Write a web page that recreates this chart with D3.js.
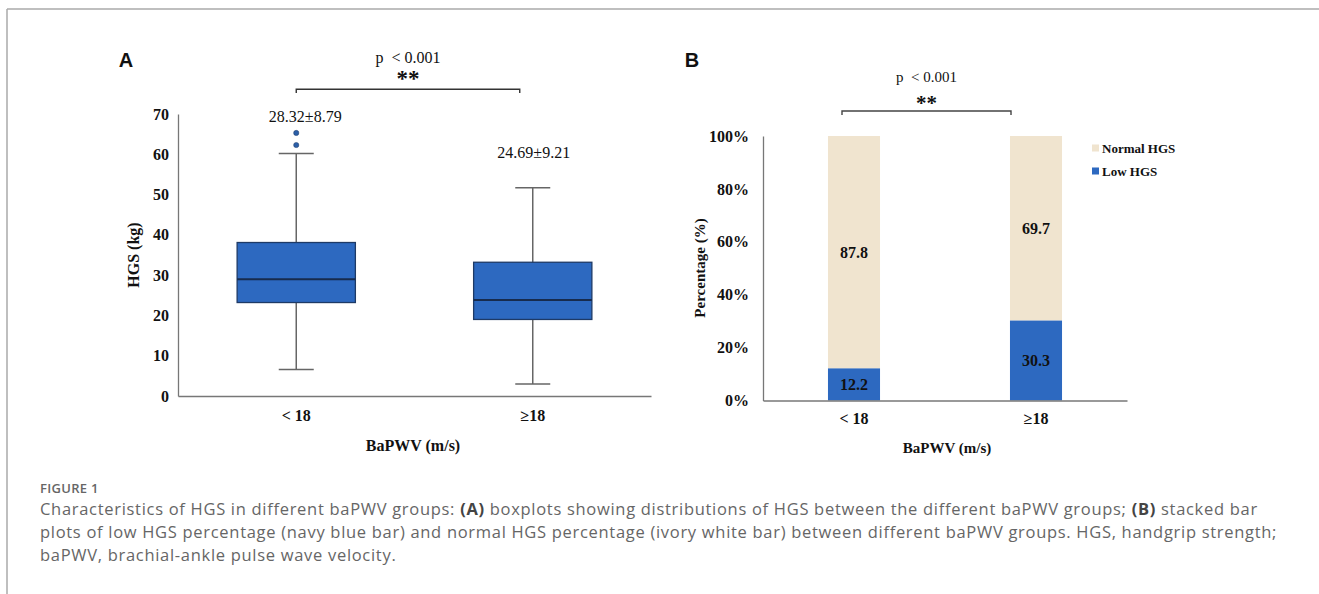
<!DOCTYPE html>
<meta charset="utf-8">
<style>
body { margin: 0; background: #fff; }
svg text { font-family: "Liberation Serif", "Times New Roman", serif; fill: #111; white-space: pre; }
.axis path { stroke: #777; }
.axis text { font-family: "Liberation Serif", serif; font-weight: bold; font-size: 16px; fill: #111; }
.caption text { font-family: "Open Sans", sans-serif; fill: #666; }
</style>
<body>
<script src="https://d3js.org/d3.v7.min.js"></script>
<script>

// ---- data ----
var groups = ["< 18", "\u226518"];
var boxQ1 = [23.2, 19.0];
var boxMedian = [29.0, 23.8];
var boxQ3 = [38.1, 33.2];
var whiskerLow = [6.6, 3.0];
var whiskerHigh = [60.2, 51.7];
var outliers = [[65.3, 62.3], []];
var meanLabels = ["28.32\u00b18.79", "24.69\u00b19.21"];
var hgsTicks = [0, 10, 20, 30, 40, 50, 60, 70];

var lowHGS = [12.2, 30.3];
var normalHGS = [87.8, 69.7];
var pctTicks = [0, 20, 40, 60, 80, 100];
var seriesNames = ["Normal HGS", "Low HGS"];

var captionLines = [
  [["Characteristics of HGS in different baPWV groups: ", 0], ["(A)", 1], [" boxplots showing distributions of HGS between the different baPWV groups; ", 0], ["(B)", 1], [" stacked bar", 0]],
  [["plots of low HGS percentage (navy blue bar) and normal HGS percentage (ivory white bar) between different baPWV groups. HGS, handgrip strength;", 0]],
  [["baPWV, brachial-ankle pulse wave velocity.", 0]]
];

var blue = "#2d69c0", ivory = "#f0e4cf";

var svg = d3.select("body").append("svg")
    .attr("width", 1319)
    .attr("height", 594);

// frame lines
svg.append("line").attr("x1", 7).attr("x2", 1319).attr("y1", 9).attr("y2", 9)
    .attr("stroke", "#aaa").attr("stroke-width", 1.5);
svg.append("line").attr("x1", 7).attr("x2", 7).attr("y1", 9).attr("y2", 594)
    .attr("stroke", "#aaa").attr("stroke-width", 1.5);

// ================= panel A =================
var xA = d3.scaleBand().domain(groups).range([178, 651]).padding(0);
var yA = d3.scaleLinear().domain([0, 70]).range([396, 114]);
var boxW = xA.bandwidth() * 0.5;
var capW = 35;

var gA = svg.append("g");

gA.append("g").attr("class", "axis")
    .attr("transform", "translate(178,0)")
    .call(d3.axisLeft(yA).tickValues(hgsTicks).tickSize(0).tickPadding(9))
    .call(function(g) { g.select(".domain").attr("stroke-width", 1.3); });

gA.append("g").attr("class", "axis")
    .attr("transform", "translate(0,396)")
    .call(d3.axisBottom(xA).tickSize(0).tickPadding(14))
    .call(function(g) { g.select(".domain").attr("stroke-width", 1.5); });

groups.forEach(function(gname, i) {
  var cx = xA(gname) + xA.bandwidth() / 2;
  // whiskers
  gA.append("line").attr("x1", cx).attr("x2", cx)
      .attr("y1", yA(whiskerLow[i])).attr("y2", yA(whiskerHigh[i]))
      .attr("stroke", "#666").attr("stroke-width", 1.5);
  [whiskerLow[i], whiskerHigh[i]].forEach(function(v) {
    gA.append("line").attr("x1", cx - capW / 2).attr("x2", cx + capW / 2)
        .attr("y1", yA(v)).attr("y2", yA(v))
        .attr("stroke", "#666").attr("stroke-width", 1.5);
  });
  // box
  gA.append("rect")
      .attr("x", cx - boxW / 2).attr("width", boxW)
      .attr("y", yA(boxQ3[i])).attr("height", yA(boxQ1[i]) - yA(boxQ3[i]))
      .attr("fill", blue).attr("stroke", "#1e3a66").attr("stroke-width", 1.3);
  gA.append("line").attr("x1", cx - boxW / 2).attr("x2", cx + boxW / 2)
      .attr("y1", yA(boxMedian[i])).attr("y2", yA(boxMedian[i]))
      .attr("stroke", "#172b4d").attr("stroke-width", 2);
  // outliers
  outliers[i].forEach(function(v) {
    gA.append("circle").attr("cx", cx).attr("cy", yA(v)).attr("r", 2.6)
        .attr("fill", "#2b5fa8").attr("stroke", "#1e3a66").attr("stroke-width", 0.5);
  });
  // mean +- sd label
  var top = d3.max(outliers[i].concat([whiskerHigh[i]]));
  gA.append("text")
      .attr("x", cx + (i === 0 ? 9 : 1))
      .attr("y", yA(top) - (i === 0 ? 11 : 30))
      .attr("text-anchor", "middle").attr("font-size", 16)
      .text(meanLabels[i]);
});

// significance bracket A
var bxA1 = xA(groups[0]) + xA.bandwidth() / 2, bxA2 = xA(groups[1]) + xA.bandwidth() / 2 - 13;
gA.append("path")
    .attr("d", "M" + bxA1 + ",93V89.3H" + bxA2 + "V93")
    .attr("fill", "none").attr("stroke", "#333").attr("stroke-width", 1.4);
gA.append("text").attr("x", (bxA1 + bxA2) / 2).attr("y", 63).attr("text-anchor", "middle")
    .attr("font-size", 16).text("p  < 0.001");
gA.append("text").attr("x", (bxA1 + bxA2) / 2).attr("y", 86).attr("text-anchor", "middle")
    .attr("font-size", 23).attr("font-weight", "bold").text("**");

gA.append("text").attr("transform", "translate(139,255) rotate(-90)")
    .attr("text-anchor", "middle").attr("font-size", 16).attr("font-weight", "bold")
    .text("HGS (kg)");
gA.append("text").attr("x", 413).attr("y", 451).attr("text-anchor", "middle")
    .attr("font-size", 16).attr("font-weight", "bold").text("BaPWV (m/s)");
gA.append("text").attr("x", 126).attr("y", 67).attr("text-anchor", "middle")
    .style("font-family", "'Liberation Sans', Arial, sans-serif")
    .attr("font-size", 20).attr("font-weight", "bold").text("A");

// ================= panel B =================
var xB = d3.scaleBand().domain(groups).range([763, 1127]).padding(0);
var yB = d3.scaleLinear().domain([0, 100]).range([400.5, 136]);
var barW = xB.bandwidth() * 0.286;

var gB = svg.append("g");

gB.append("g").attr("class", "axis")
    .attr("transform", "translate(763,0)")
    .call(d3.axisLeft(yB).tickValues(pctTicks).tickSize(0).tickPadding(14)
      .tickFormat(function(d) { return d + "%"; }))
    .call(function(g) { g.select(".domain").attr("stroke", "#555").attr("stroke-width", 1.3); });

var stacked = groups.map(function(g, i) { return { group: g, low: lowHGS[i], normal: normalHGS[i] }; });
var stack = d3.stack().keys(["low", "normal"])(stacked);
var fills = { low: blue, normal: ivory };

gB.selectAll("g.series").data(stack).enter().append("g")
    .attr("fill", function(d) { return fills[d.key]; })
  .selectAll("rect").data(function(d) { return d; }).enter().append("rect")
    .attr("x", function(d) { return xB(d.data.group) + (xB.bandwidth() - barW) / 2; })
    .attr("width", barW)
    .attr("y", function(d) { return yB(d[1]); })
    .attr("height", function(d) { return yB(d[0]) - yB(d[1]); });

// value labels
groups.forEach(function(gname, i) {
  var cx = xB(gname) + xB.bandwidth() / 2;
  gB.append("text").attr("x", cx).attr("y", yB(lowHGS[i] / 2) + 6)
      .attr("text-anchor", "middle").attr("font-size", 16).attr("font-weight", "bold")
      .text(lowHGS[i].toFixed(1));
  gB.append("text").attr("x", cx).attr("y", yB(lowHGS[i] + normalHGS[i] / 2) + 6)
      .attr("text-anchor", "middle").attr("font-size", 16).attr("font-weight", "bold")
      .text(normalHGS[i].toFixed(1));
});

gB.append("g").attr("class", "axis")
    .attr("transform", "translate(0,400.5)")
    .call(d3.axisBottom(xB).tickSize(0).tickPadding(12))
    .call(function(g) { g.select(".domain").attr("stroke", "#333").attr("stroke-width", 1.5); });

// significance bracket B
var bxB1 = xB(groups[0]) + xB.bandwidth() / 2 - 12, bxB2 = xB(groups[1]) + xB.bandwidth() / 2 - 25;
gB.append("path")
    .attr("d", "M" + bxB1 + ",115V111H" + bxB2 + "V115")
    .attr("fill", "none").attr("stroke", "#444").attr("stroke-width", 1.4);
gB.append("text").attr("x", (bxB1 + bxB2) / 2).attr("y", 82).attr("text-anchor", "middle")
    .attr("font-size", 15).text("p  < 0.001");
gB.append("text").attr("x", (bxB1 + bxB2) / 2).attr("y", 110).attr("text-anchor", "middle")
    .attr("font-size", 21).attr("font-weight", "bold").text("**");

gB.append("text").attr("transform", "translate(705,268) rotate(-90)")
    .attr("text-anchor", "middle").attr("font-size", 15).attr("font-weight", "bold")
    .text("Percentage (%)");
gB.append("text").attr("x", 947).attr("y", 453).attr("text-anchor", "middle")
    .attr("font-size", 15).attr("font-weight", "bold").text("BaPWV (m/s)");
gB.append("text").attr("x", 692).attr("y", 67).attr("text-anchor", "middle")
    .style("font-family", "'Liberation Sans', Arial, sans-serif")
    .attr("font-size", 20).attr("font-weight", "bold").text("B");

// legend
var legend = gB.selectAll("g.legend").data(seriesNames).enter().append("g")
    .attr("transform", function(d, i) { return "translate(1092," + (148 + i * 23) + ")"; });
legend.append("rect").attr("x", 0).attr("y", -3.5).attr("width", 7).attr("height", 7)
    .attr("fill", function(d) { return d === "Low HGS" ? blue : ivory; });
legend.append("text").attr("x", 10).attr("y", 5).attr("font-size", 13).attr("font-weight", "bold")
    .text(function(d) { return d; });

// ================= caption =================
var cap = svg.append("g").attr("class", "caption");
cap.append("text").attr("x", 40).attr("y", 493).attr("font-size", 13).attr("font-weight", 600)
    .style("letter-spacing", "0.3px").text("FIGURE 1");
captionLines.forEach(function(line, i) {
  var t = cap.append("text").attr("x", 40).attr("y", 515 + i * 23).attr("font-size", 16.5)
      .style("letter-spacing", "0.7px");
  line.forEach(function(part) {
    t.append("tspan").attr("font-weight", part[1] ? "bold" : null)
        .style("fill", part[1] ? "#444" : null).text(part[0]);
  });
});

</script>
</body>
